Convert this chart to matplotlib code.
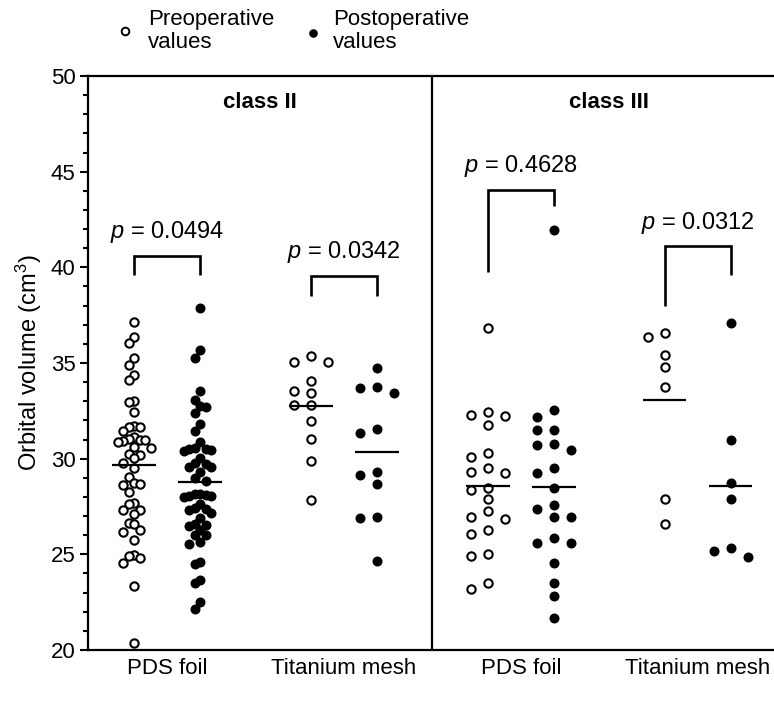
import numpy as np
import matplotlib
matplotlib.use('Agg')
import matplotlib.pyplot as plt
from matplotlib.lines import Line2D

plt.rcParams['font.family'] = ['Liberation Sans', 'DejaVu Sans']
plt.rcParams['mathtext.fontset'] = 'custom'
plt.rcParams['mathtext.rm'] = 'Liberation Sans'
plt.rcParams['mathtext.it'] = 'Liberation Sans:italic'
plt.rcParams['mathtext.bf'] = 'Liberation Sans:bold'

# ---------------- data ----------------
categories = ['PDS foil', 'Titanium mesh', 'PDS foil', 'Titanium mesh']
classes = ['class II', 'class III']
p_values = ['0.0494', '0.0342', '0.4628', '0.0312']
legend_labels = ['Preoperative\nvalues', 'Postoperative\nvalues']
y_label = 'Orbital volume (cm$^3$)'

c2_pds_pre = [37.14, 36.36, 36.05, 35.26, 34.90, 34.37, 34.11, 33.01, 32.96, 32.44,
              31.71, 31.66, 31.66, 31.45, 31.14, 31.03, 30.98, 30.98, 30.93, 30.87,
              30.61, 30.56, 30.24, 30.19, 30.03, 29.77, 29.51, 29.04, 28.73, 28.68,
              28.62, 28.26, 27.68, 27.63, 27.32, 27.32, 27.11, 26.64, 26.59, 26.27,
              26.17, 25.75, 24.97, 24.91, 24.81, 24.55, 23.34, 20.37]
c2_pds_post = [37.87, 35.68, 35.26, 33.54, 33.07, 32.75, 32.70, 32.39, 31.81, 31.45,
               30.87, 30.56, 30.51, 30.51, 30.45, 30.40, 30.03, 29.77, 29.72, 29.56,
               29.56, 29.30, 28.99, 28.83, 28.15, 28.15, 28.10, 28.05, 28.05, 27.99,
               27.63, 27.42, 27.37, 27.32, 27.16, 26.90, 26.59, 26.53, 26.48, 26.27,
               26.01, 26.01, 25.64, 25.54, 24.60, 24.49, 23.66, 23.50, 22.51, 22.14]
c2_ti_pre = [35.37, 35.07, 35.05, 34.07, 33.55, 33.45, 32.82, 32.82, 31.98, 31.01,
             29.89, 27.84]
c2_ti_post = [34.72, 33.76, 33.68, 33.45, 31.53, 31.36, 29.32, 29.15, 28.68, 26.97,
              26.88, 24.67]
c3_pds_pre = [36.81, 32.45, 32.28, 32.23, 31.76, 30.31, 30.07, 29.50, 29.32, 29.27,
              28.47, 28.36, 27.88, 27.28, 26.97, 26.86, 26.27, 26.06, 25.00, 24.91,
              23.52, 23.17]
c3_pds_post = [41.95, 32.54, 32.16, 31.50, 31.50, 30.77, 30.71, 30.45, 29.50, 29.27,
               28.45, 27.58, 27.35, 26.93, 26.93, 25.84, 25.61, 25.58, 24.53, 23.49,
               22.82, 21.66]
c3_ti_pre = [36.58, 36.34, 35.42, 34.81, 33.73, 27.88, 26.57]
c3_ti_post = [37.11, 30.98, 28.71, 27.88, 25.31, 25.19, 24.84]

pre_groups = [c2_pds_pre, c2_ti_pre, c3_pds_pre, c3_ti_pre]
post_groups = [c2_pds_post, c2_ti_post, c3_pds_post, c3_ti_post]

# ---------------- layout ----------------
W, H = 774, 712
fig = plt.figure(figsize=(W / 100, H / 100), dpi=100)
ax_l, ax_r, ax_t, ax_b = 88, 774, 76, 650
ax = fig.add_axes([ax_l / W, 1 - ax_b / H, (ax_r - ax_l) / W, (ax_b - ax_t) / H])

YMIN, YMAX = 20, 50
px_per_y = (ax_b - ax_t) / (YMAX - YMIN)
unit_px = 66.0                      # pixels per x unit
group_sp = 2.68
centers = np.arange(4) * group_sp
x_left = (ax_l - 167) / unit_px
x_right = x_left + (ax_r - ax_l) / unit_px
ax.set_xlim(x_left, x_right)
ax.set_ylim(YMIN, YMAX)

steps = [5.5, 17, 17, 17]           # horizontal swarm step (px) per group
dys = [9.5, 10, 10, 10]


def swarm(vals, step_px, dy_px):
    vals = np.asarray(vals, float)
    order = np.argsort(-vals, kind='stable')
    placed = []
    offs = np.zeros(len(vals))
    cands = [0]
    for j in range(1, 30):
        cands += [-j, j]
    for i in order:
        y = vals[i] * px_per_y
        for c in cands:
            if all(not (abs(y - py) < dy_px and ps == c) for py, ps in placed):
                break
        placed.append((y, c))
        offs[i] = c * step_px / unit_px
    return offs


for g in range(4):
    for k, (vals, filled) in enumerate([(pre_groups[g], False), (post_groups[g], True)]):
        xc = centers[g] + (k - 0.5)
        offs = swarm(vals, steps[g], dys[g])
        if filled:
            ax.plot(xc + offs, vals, 'o', ms=7.2, mfc='black', mec='black', mew=0,
                    ls='none', zorder=3, clip_on=False)
        else:
            ax.plot(xc + offs, vals, 'o', ms=6.0, mfc='white', mec='black', mew=1.5,
                    ls='none', zorder=3, clip_on=False)
        m = np.mean(vals)
        ax.plot([xc - 0.33, xc + 0.33], [m, m], color='black', lw=1.6, zorder=4,
                solid_capstyle='butt')

# brackets: (top, left leg bottom, right leg bottom)
brackets = [(40.6, 39.6, 39.6), (39.55, 38.5, 38.5), (44.05, 39.75, 43.2), (41.1, 38.0, 39.6)]
for g in range(4):
    top, lb, rb = brackets[g]
    x0, x1 = centers[g] - 0.5, centers[g] + 0.5
    ax.plot([x0, x0, x1, x1], [lb, top, top, rb], color='black', lw=1.9, zorder=5,
            solid_joinstyle='miter', solid_capstyle='butt')
    ax.text(centers[g], top + 0.55, '$p$ = ' + p_values[g], ha='center', va='bottom',
            fontsize=17)

# divider between classes
div_x = (centers[1] + 0.5 + centers[2] - 0.5) / 2
ax.axvline(div_x, color='black', lw=1.6, zorder=5)

# class titles
ax.text((x_left + div_x) / 2, 48.6, classes[0], ha='center', va='center',
        fontsize=16, fontweight='bold')
ax.text((div_x + x_right) / 2 + 0.08, 48.6, classes[1], ha='center', va='center',
        fontsize=16, fontweight='bold')

# axes styling
for s in ['left', 'bottom', 'top']:
    ax.spines[s].set_linewidth(1.6)
ax.spines['right'].set_visible(False)
ax.set_yticks(np.arange(20, 51, 5))
ax.set_yticks(np.arange(20, 51, 1), minor=True)
ax.tick_params(axis='y', which='major', length=6, width=1.5, labelsize=16, pad=3)
ax.tick_params(axis='y', which='minor', length=3.5, width=1.5)
ax.set_xticks(centers)
ax.set_xticklabels(categories)
ax.tick_params(axis='x', length=0, labelsize=16, pad=6)
ax.set_ylabel(y_label, fontsize=17, labelpad=5)

# legend (top)
fig.add_artist(Line2D([125 / W], [1 - 31 / H], transform=fig.transFigure, marker='o',
                      ms=5.5, mfc='white', mec='black', mew=1.4, ls='none'))
fig.text(148 / W, 1 - 31 / H, legend_labels[0], ha='left', va='center', fontsize=16,
         linespacing=1.1)
fig.add_artist(Line2D([313 / W], [1 - 33 / H], transform=fig.transFigure, marker='o',
                      ms=6.2, mfc='black', mec='black', mew=0, ls='none'))
fig.text(333 / W, 1 - 31 / H, legend_labels[1], ha='left', va='center', fontsize=16,
         linespacing=1.1)

fig.savefig('out.png', dpi=100)
